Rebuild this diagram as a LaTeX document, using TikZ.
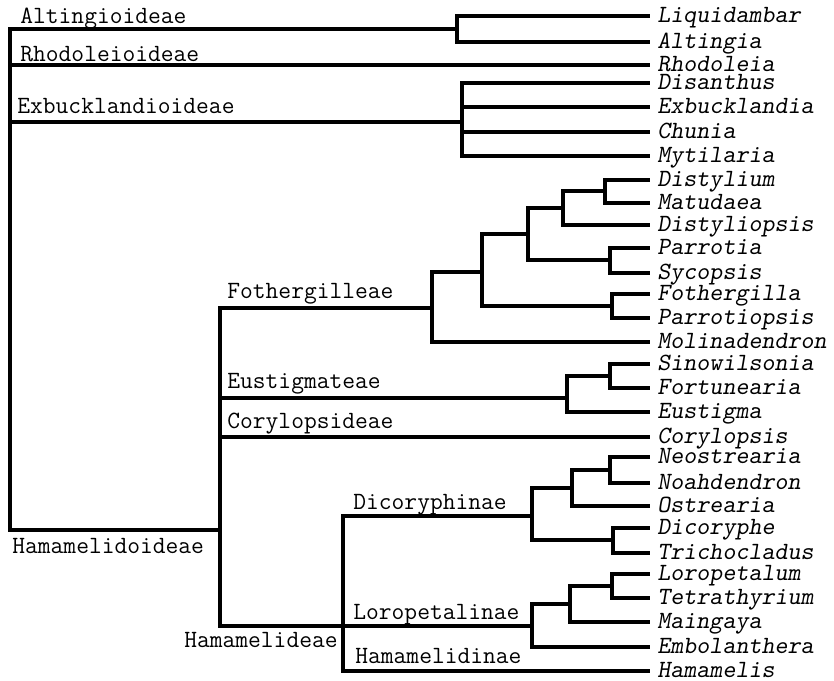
\documentclass[tikz,border=0pt]{standalone}
\usepackage{fontspec}
\begin{document}
\begin{tikzpicture}[x=0.5pt,y=-0.5pt,
  br/.style={line width=2pt, line join=miter},
  leaf/.style={anchor=base west, inner sep=0pt, font=\fontsize{12.4}{14}\selectfont\ttfamily\slshape},
  clade/.style={anchor=base west, inner sep=0pt, font=\fontsize{12.4}{14}\selectfont\ttfamily}]
\useasboundingbox (0,0) rectangle (834,680);
% leaves
\foreach \n/\y in {Liquidambar/16, Altingia/42, Rhodoleia/65, Disanthus/83, Exbucklandia/107,
  Chunia/132, Mytilaria/156, Distylium/180, Matudaea/203, Distyliopsis/225, Parrotia/248,
  Sycopsis/273, Fothergilla/294, Parrotiopsis/318, Molinadendron/342, Sinowilsonia/364,
  Fortunearia/388, Eustigma/412, Corylopsis/437, Neostrearia/457, Noahdendron/483,
  Ostrearia/506, Dicoryphe/528, Trichocladus/553, Loropetalum/574, Tetrathyrium/598,
  Maingaya/622, Embolanthera/647, Hamamelis/671}{
  \coordinate (\n) at (650,\y);
  \node[leaf] (t\n) at (657,\y+6) {\n};
}
% internal nodes
\coordinate (root) at (10,279);
\coordinate (alt) at (457,29);
\coordinate (exb) at (462,122);
\coordinate (hamo) at (220,530);
\coordinate (nA) at (432,308);
\coordinate (nB) at (482,272);
\coordinate (nC) at (528,234);
\coordinate (nE) at (563,208);
\coordinate (nG) at (605,191);
\coordinate (nF) at (610,260);
\coordinate (nD) at (612,306);
\coordinate (eus) at (567,398);
\coordinate (nH) at (610,376);
\coordinate (hamt) at (343,626);
\coordinate (dic) at (532,516);
\coordinate (nI) at (572,488);
\coordinate (nJ) at (610,470);
\coordinate (nK) at (613,540);
\coordinate (lor) at (532,626);
\coordinate (nL) at (570,604);
\coordinate (nM) at (612,586);
% branches
\draw[br] (root) |- (alt); \draw[br] (root) |- (Rhodoleia);
\draw[br] (root) |- (exb); \draw[br] (root) |- (hamo);
\draw[br] (alt) |- (Liquidambar); \draw[br] (alt) |- (Altingia);
\foreach \c in {Disanthus,Exbucklandia,Chunia,Mytilaria} \draw[br] (exb) |- (\c);
\draw[br] (hamo) |- (nA); \draw[br] (hamo) |- (eus);
\draw[br] (hamo) |- (Corylopsis); \draw[br] (hamo) |- (hamt);
\draw[br] (nA) |- (nB); \draw[br] (nA) |- (Molinadendron);
\draw[br] (nB) |- (nC); \draw[br] (nB) |- (nD);
\draw[br] (nC) |- (nE); \draw[br] (nC) |- (nF);
\draw[br] (nE) |- (nG); \draw[br] (nE) |- (Distyliopsis);
\draw[br] (nG) |- (Distylium); \draw[br] (nG) |- (Matudaea);
\draw[br] (nF) |- (Parrotia); \draw[br] (nF) |- (Sycopsis);
\draw[br] (nD) |- (Fothergilla); \draw[br] (nD) |- (Parrotiopsis);
\draw[br] (eus) |- (nH); \draw[br] (eus) |- (Eustigma);
\draw[br] (nH) |- (Sinowilsonia); \draw[br] (nH) |- (Fortunearia);
\draw[br] (hamt) |- (dic); \draw[br] (hamt) |- (lor); \draw[br] (hamt) |- (Hamamelis);
\draw[br] (dic) |- (nI); \draw[br] (dic) |- (nK);
\draw[br] (nI) |- (nJ); \draw[br] (nI) |- (Ostrearia);
\draw[br] (nJ) |- (Neostrearia); \draw[br] (nJ) |- (Noahdendron);
\draw[br] (nK) |- (Dicoryphe); \draw[br] (nK) |- (Trichocladus);
\draw[br] (lor) |- (nL); \draw[br] (lor) |- (Embolanthera);
\draw[br] (nL) |- (nM); \draw[br] (nL) |- (Maingaya);
\draw[br] (nM) |- (Loropetalum); \draw[br] (nM) |- (Tetrathyrium);
% clade labels
\node[clade] (lAlt) at (20,24) {Altingioideae};
\node[clade] (lRho) at (20,61) {Rhodoleioideae};
\node[clade] (lExb) at (17,113) {Exbucklandioideae};
\node[clade] (lFot) at (227,298) {Fothergilleae};
\node[clade] (lEus) at (227,388) {Eustigmateae};
\node[clade] (lCor) at (227,428) {Corylopsideae};
\node[clade] (lHamo) at (12,553) {Hamamelidoideae};
\node[clade,anchor=base east] (lHamt) at (338,647) {Hamamelideae};
\node[clade] (lDic) at (353,509) {Dicoryphinae};
\node[clade] (lLor) at (353,619) {Loropetalinae};
\node[clade] (lHam) at (355,663) {Hamamelidinae};
\end{tikzpicture}
\end{document}
